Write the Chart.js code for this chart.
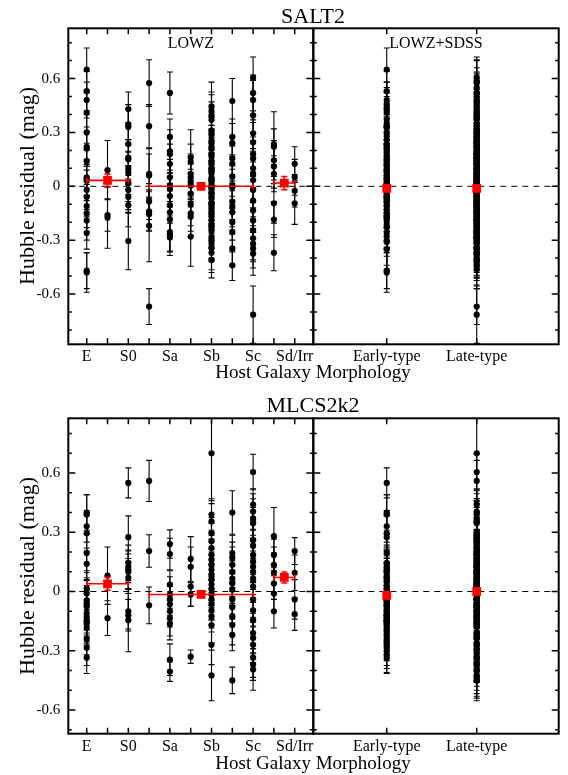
<!DOCTYPE html>
<html>
<head>
<meta charset="utf-8">
<script src="https://cdn.jsdelivr.net/npm/chart.js@4.4.1/dist/chart.umd.min.js"></script>
<style>
    body { margin: 0; background: #fff; width: 568px; height: 775px; position: relative; overflow: hidden;
           font-family: "Liberation Serif", "DejaVu Serif", serif; color: #000; }
    canvas { position: absolute; left: 0; top: 0; }
    .txt { position: absolute; white-space: nowrap; line-height: 1; }
    .center { transform: translateX(-50%); }
    .ytitle { transform: translate(-50%, -50%) rotate(-90deg); }
</style>
</head>
<body>
<canvas id="salt2Lowz" width="568" height="775"></canvas>
<canvas id="salt2All" width="568" height="775"></canvas>
<canvas id="mlcsLowz" width="568" height="775"></canvas>
<canvas id="mlcsAll" width="568" height="775"></canvas>

<div class="txt center" style="left:313px; top:5px; font-size:22px;">SALT2</div>
<div class="txt center" style="left:313px; top:394px; font-size:22px;">MLCS2k2</div>
<div class="txt center" style="left:190.8px; top:35px; font-size:16px;">LOWZ</div>
<div class="txt center" style="left:436px; top:35px; font-size:16px;">LOWZ+SDSS</div>
<div class="txt center" style="left:313px; top:362px; font-size:19px;">Host Galaxy Morphology</div>
<div class="txt center" style="left:313px; top:753px; font-size:19px;">Host Galaxy Morphology</div>
<div class="txt ytitle" style="left:27px; top:186px; font-size:22px;">Hubble residual (mag)</div>
<div class="txt ytitle" style="left:27px; top:576px; font-size:22px;">Hubble residual (mag)</div>

<script>
// ---- カテゴリと目盛り ----
const morphPos = [0, 1, 2, 3, 4, 5, 6, 7, 8, 9, 10];
const morphTickLabels = ['E', '', 'S0', '', 'Sa', '', 'Sb', '', 'Sc', '', 'Sd/Irr'];
const typePos = [1, 2];
const typeTickLabels = ['Early-type', 'Late-type'];

const yTickValues = [-0.6, -0.3, 0, 0.3, 0.6];
const salt2YMinor = [-0.8, -0.7, -0.5, -0.4, -0.2, -0.1, 0.1, 0.2, 0.4, 0.5, 0.7, 0.8];
const mlcsYMinor = [-0.7, -0.5, -0.4, -0.2, -0.1, 0.1, 0.2, 0.4, 0.5, 0.7, 0.8];

// ---- SALT2 LOWZ: [残差, 誤差] ----
const salt2E = [[0.65,0.12],[0.53,0.11],[0.48,0.10],[0.41,0.11],[0.30,0.10],[0.22,0.11],[0.21,0.09],[0.14,0.10],
    [0.05,0.10],[0.03,0.09],[-0.02,0.11],[-0.06,0.10],[-0.11,0.12],[-0.15,0.10],[-0.19,0.11],[-0.26,0.09],[-0.47,0.10],[-0.48,0.11]];
const salt2ES0 = [[0.09,0.165],[-0.16,0.09],[-0.175,0.17]];
const salt2S0 = [[0.43,0.095],[0.345,0.11],[0.33,0.10],[0.235,0.12],[0.16,0.10],[0.15,0.11],[0.10,0.09],[0.075,0.12],
    [0.015,0.10],[-0.02,0.11],[-0.06,0.09],[-0.105,0.12],[-0.305,0.16]];
const salt2S0a = [[0.575,0.13],[0.335,0.12],[0.07,0.14],[0.06,0.12],[-0.085,0.10],[-0.14,0.11],[-0.155,0.09],[-0.22,0.20],[-0.67,0.10]];
const salt2Sa = [[0.52,0.117],[0.275,0.10],[0.195,0.12],[0.18,0.09],[0.125,0.11],[0.05,0.10],[0.005,0.12],[-0.015,0.09],
    [-0.055,0.11],[-0.105,0.10],[-0.145,0.12],[-0.185,0.10],[-0.255,0.11],[-0.27,0.09],[-0.285,0.10]];
const salt2Sab = [[0.16,0.155],[0.135,0.10],[0.07,0.11],[0.05,0.12],[0.025,0.10],[0.005,0.09],[-0.04,0.11],[-0.10,0.12],
    [-0.15,0.10],[-0.17,0.11],[-0.28,0.165]];
const salt2Sb = [[0.445,0.135],[0.415,0.11],[0.39,0.12],[0.37,0.10],[0.31,0.12],[0.29,0.11],[0.255,0.13],[0.24,0.10],
    [0.22,0.12],[0.21,0.11],[0.18,0.10],[0.165,0.13],[0.14,0.11],[0.125,0.12],[0.10,0.10],[0.085,0.12],[0.07,0.11],
    [0.045,0.13],[0.035,0.10],[0.025,0.12],[0.005,0.11],[-0.005,0.10],[-0.015,0.12],[-0.03,0.11],[-0.04,0.13],
    [-0.055,0.10],[-0.07,0.12],[-0.095,0.11],[-0.11,0.10],[-0.125,0.12],[-0.15,0.11],[-0.17,0.13],[-0.19,0.10],
    [-0.215,0.12],[-0.23,0.11],[-0.245,0.10],[-0.28,0.12],[-0.30,0.11],[-0.32,0.10],[-0.345,0.12],[-0.37,0.11],[-0.41,0.10]];
const salt2Sbc = [[0.475,0.125],[0.275,0.10],[0.24,0.11],[0.155,0.12],[0.125,0.10],[0.055,0.11],[0.005,0.09],[-0.005,0.12],
    [-0.085,0.10],[-0.115,0.11],[-0.145,0.12],[-0.20,0.10],[-0.255,0.11],[-0.345,0.10],[-0.44,0.085]];
const salt2Sc = [[0.605,0.115],[0.52,0.10],[0.48,0.11],[0.395,0.12],[0.295,0.10],[0.245,0.11],[0.18,0.12],[0.155,0.10],
    [0.10,0.11],[0.07,0.09],[0.035,0.12],[-0.02,0.10],[-0.08,0.11],[-0.135,0.12],[-0.19,0.10],[-0.245,0.11],
    [-0.29,0.12],[-0.32,0.10],[-0.345,0.11],[-0.375,0.12],[-0.715,0.16]];
const salt2Scd = [[0.235,0.18],[0.22,0.10],[0.145,0.11],[0.11,0.12],[0.07,0.10],[-0.095,0.11],[-0.185,0.10],[-0.37,0.10]];
const salt2SdIrr = [[0.125,0.095],[0.05,0.10],[-0.025,0.09],[-0.095,0.117]];

// SALT2 SDSS (右パネルのみ)
const salt2SdssEarly = [[0.46,0.12],[0.44,0.11],[0.37,0.13],[0.33,0.12],[0.28,0.11],[0.26,0.12],[0.23,0.10],[0.19,0.13],
    [0.17,0.12],[0.12,0.11],[0.08,0.13],[0.06,0.12],[0.02,0.11],[0.00,0.13],[-0.04,0.12],[-0.07,0.11],[-0.09,0.13],
    [-0.13,0.12],[-0.17,0.11],[-0.21,0.13],[-0.23,0.12],[-0.28,0.11],[-0.31,0.13],[-0.35,0.12]];
const salt2SdssLate = [[0.58,0.12],[0.55,0.11],[0.50,0.13],[0.47,0.12],[0.43,0.11],[0.41,0.13],[0.38,0.12],[0.35,0.11],
    [0.33,0.13],[0.30,0.12],[0.27,0.11],[0.25,0.13],[0.22,0.12],[0.19,0.11],[0.16,0.13],[0.14,0.12],[0.12,0.11],
    [0.09,0.13],[0.07,0.12],[0.04,0.11],[0.02,0.13],[0.01,0.12],[-0.01,0.11],[-0.03,0.13],[-0.06,0.12],[-0.08,0.11],
    [-0.11,0.13],[-0.13,0.12],[-0.16,0.11],[-0.18,0.13],[-0.20,0.12],[-0.23,0.11],[-0.26,0.13],[-0.29,0.12],
    [-0.31,0.11],[-0.34,0.13],[-0.38,0.12],[-0.40,0.11],[-0.43,0.12],[-0.46,0.11]];

// SALT2 平均値 (赤)
const meanPos = [1, 5.5, 9.5];
const meanLo = [0, 3, 9];
const meanHi = [2, 8, 10];
const salt2MeanVal = [0.033, 0.0, 0.018];
const salt2MeanErr = [0.035, 0.012, 0.037];
const salt2TypeMeanVal = [-0.012, -0.012];
const salt2TypeMeanErr = [0.015, 0.012];

// ---- MLCS2k2 LOWZ ----
const mlcsE = [[0.40,0.09],[0.39,0.10],[0.33,0.08],[0.295,0.09],[0.195,0.10],[0.14,0.08],[0.015,0.09],[-0.01,0.08],
    [-0.045,0.10],[-0.06,0.09],[-0.075,0.08],[-0.11,0.10],[-0.13,0.09],[-0.15,0.08],[-0.165,0.10],[-0.185,0.09],
    [-0.24,0.08],[-0.285,0.09],[-0.335,0.08]];
const mlcsES0 = [[0.08,0.145],[-0.135,0.088]];
const mlcsS0 = [[0.55,0.076],[0.275,0.108],[0.145,0.09],[0.125,0.08],[0.11,0.10],[0.10,0.09],[0.07,0.08],
    [-0.10,0.09],[-0.12,0.08],[-0.145,0.16]];
const mlcsS0a = [[0.56,0.104],[0.205,0.082],[-0.07,0.093]];
const mlcsSa = [[0.24,0.072],[0.19,0.08],[0.035,0.07],[-0.015,0.09],[-0.04,0.08],[-0.065,0.09],[-0.10,0.08],
    [-0.135,0.09],[-0.165,0.08],[-0.345,0.08],[-0.405,0.05]];
const mlcsSab = [[0.165,0.113],[0.125,0.10],[0.025,0.10],[-0.015,0.06],[-0.33,0.034]];
const mlcsSb = [[0.70,0.24],[0.39,0.08],[0.355,0.09],[0.295,0.08],[0.255,0.09],[0.22,0.08],[0.185,0.10],[0.16,0.09],
    [0.135,0.08],[0.11,0.09],[0.085,0.10],[0.06,0.08],[0.035,0.09],[0.01,0.08],[-0.015,0.09],[-0.04,0.10],
    [-0.065,0.08],[-0.095,0.09],[-0.125,0.08],[-0.17,0.09],[-0.27,0.10],[-0.425,0.128]];
const mlcsSbc = [[0.40,0.11],[0.195,0.09],[0.17,0.08],[0.135,0.09],[0.10,0.08],[0.065,0.09],[0.04,0.10],[0.01,0.08],
    [-0.04,0.09],[-0.08,0.08],[-0.125,0.09],[-0.17,0.10],[-0.22,0.08],[-0.45,0.067]];
const mlcsSc = [[0.605,0.09],[0.44,0.08],[0.405,0.09],[0.37,0.10],[0.345,0.08],[0.26,0.09],[0.23,0.08],[0.185,0.10],
    [0.15,0.09],[0.125,0.08],[0.10,0.09],[0.065,0.10],[0.025,0.08],[-0.04,0.09],[-0.095,0.08],[-0.145,0.09],
    [-0.21,0.10],[-0.235,0.08],[-0.27,0.09],[-0.335,0.10],[-0.37,0.08],[-0.395,0.105]];
const mlcsScd = [[0.28,0.145],[0.185,0.08],[0.135,0.09],[0.095,0.10],[0.04,0.08],[-0.01,0.09],[-0.10,0.085]];
const mlcsSdIrr = [[0.205,0.068],[0.095,0.09],[-0.04,0.10],[-0.115,0.082]];

const mlcsSdssEarly = [[0.12,0.09],[0.10,0.08],[0.07,0.10],[0.05,0.09],[0.03,0.08],[0.00,0.10],[-0.02,0.09],
    [-0.05,0.08],[-0.07,0.10],[-0.09,0.09],[-0.12,0.08],[-0.15,0.10],[-0.17,0.09],[-0.20,0.08],[-0.22,0.10],
    [-0.25,0.09],[-0.27,0.08],[-0.30,0.09],[-0.32,0.09]];
const mlcsSdssLate = [[0.30,0.09],[0.27,0.08],[0.25,0.10],[0.22,0.09],[0.20,0.08],[0.17,0.10],[0.15,0.09],[0.12,0.08],
    [0.10,0.10],[0.08,0.09],[0.05,0.08],[0.03,0.10],[0.01,0.09],[-0.01,0.08],[-0.04,0.10],[-0.06,0.09],[-0.08,0.08],
    [-0.11,0.10],[-0.13,0.09],[-0.16,0.08],[-0.18,0.10],[-0.21,0.09],[-0.23,0.08],[-0.26,0.10],[-0.29,0.09],
    [-0.31,0.08],[-0.34,0.10],[-0.37,0.09],[-0.40,0.08],[-0.43,0.10],[-0.45,0.09]];

const mlcsMeanVal = [0.039, -0.015, 0.071];
const mlcsMeanErr = [0.033, 0.012, 0.028];
const mlcsTypeMeanVal = [-0.02, 0.0];
const mlcsTypeMeanErr = [0.015, 0.01];

// ---- 配置 ----
const W = 568, H = 775;
const X_AXIS_H = 30;
const BOX_LEFT = 68.3, BOX_MID = 313.3, BOX_RIGHT = 558.7;
const salt2Box = { top: 28.3, bottom: 344.3, yMin: -0.88, yMax: 0.88 };
const mlcsBox = { top: 418.3, bottom: 733.7, yMin: -0.72, yMax: 0.877 };

Chart.defaults.font.family = '"Liberation Serif", "DejaVu Serif", serif';
Chart.defaults.color = '#000';

// order: 大きいほど下に描かれる (赤を上に)
const blackStyle = { order: 2, pointRadius: 3.1, pointBackgroundColor: '#000', pointBorderWidth: 0, pointStyle: 'circle',
    barColor: '#000', barWidth: 1.1, cap: 3 };
const redStyle = { order: 1, pointRadius: 6.2, pointBackgroundColor: '#ff0000', pointBorderWidth: 0, pointStyle: 'rect',
    barColor: '#ff0000', barWidth: 1.6, cap: 3 };

// 誤差棒・枠・内向き目盛り
const framePlugin = {
    id: 'frame',
    beforeDatasetsDraw(chart) {
        const { ctx, chartArea: a, scales: { y } } = chart;
        const y0 = y.getPixelForValue(0);
        ctx.save();
        ctx.strokeStyle = '#000';
        ctx.lineWidth = 1;
        ctx.setLineDash([6, 5]);
        ctx.beginPath();
        ctx.moveTo(a.left, y0);
        ctx.lineTo(a.right, y0);
        ctx.stroke();
        ctx.restore();
    },
    beforeDatasetDraw(chart, args) {
        const ds = chart.data.datasets[args.index];
        if (!ds.yErr) return;
        const { ctx, chartArea: a, scales: { x, y } } = chart;
        ctx.save();
        ctx.beginPath();
        ctx.rect(a.left, a.top, a.right - a.left, a.bottom - a.top);
        ctx.clip();
        ctx.strokeStyle = ds.barColor;
        ctx.lineWidth = ds.barWidth;
        ds.data.forEach((p, i) => {
            const px = x.getPixelForValue(p.x);
            const lo = y.getPixelForValue(p.y - ds.yErr[i]);
            const hi = y.getPixelForValue(p.y + ds.yErr[i]);
            ctx.beginPath();
            ctx.moveTo(px, lo); ctx.lineTo(px, hi);
            ctx.moveTo(px - ds.cap, lo); ctx.lineTo(px + ds.cap, lo);
            ctx.moveTo(px - ds.cap, hi); ctx.lineTo(px + ds.cap, hi);
            if (ds.xLo) {
                const py = y.getPixelForValue(p.y);
                const l = x.getPixelForValue(ds.xLo[i]);
                const r = x.getPixelForValue(ds.xHi[i]);
                ctx.moveTo(l, py); ctx.lineTo(r, py);
                ctx.moveTo(l, py - ds.cap); ctx.lineTo(l, py + ds.cap);
                ctx.moveTo(r, py - ds.cap); ctx.lineTo(r, py + ds.cap);
            }
            ctx.stroke();
        });
        ctx.restore();
    },
    afterDraw(chart) {
        const { ctx, chartArea: a, scales: { x, y } } = chart;
        const opts = chart.options.plugins.frame;
        ctx.save();
        ctx.strokeStyle = '#000';
        ctx.lineWidth = 1.5;
        ctx.beginPath();
        opts.yMajor.forEach(v => {
            const py = y.getPixelForValue(v);
            ctx.moveTo(a.left, py); ctx.lineTo(a.left + 7, py);
            ctx.moveTo(a.right, py); ctx.lineTo(a.right - 7, py);
        });
        opts.yMinor.forEach(v => {
            const py = y.getPixelForValue(v);
            ctx.moveTo(a.left, py); ctx.lineTo(a.left + 3.5, py);
            ctx.moveTo(a.right, py); ctx.lineTo(a.right - 3.5, py);
        });
        opts.xMajor.forEach(v => {
            const px = x.getPixelForValue(v);
            ctx.moveTo(px, a.top); ctx.lineTo(px, a.top + 6);
            ctx.moveTo(px, a.bottom); ctx.lineTo(px, a.bottom - 6);
        });
        ctx.stroke();
        ctx.lineWidth = 2;
        ctx.strokeRect(a.left, a.top, a.right - a.left, a.bottom - a.top);
        ctx.restore();
    }
};

function pointsFrom(groups, positions) {
    const pts = [], errs = [];
    groups.forEach((g, i) => g.forEach(([v, e]) => {
        pts.push({ x: positions[i], y: v });
        errs.push(e);
    }));
    return { pts, errs };
}

function makePanel(id, box, left, right, xCfg, yMinor, datasets, showY) {
    const yOpts = {
        type: 'linear', min: box.yMin, max: box.yMax, display: showY,
        afterBuildTicks: s => { s.ticks = yTickValues.map(v => ({ value: v })); },
        grid: { display: false, drawTicks: false },
        border: { display: false },
        ticks: { padding: 8, font: { size: 15 },
            callback: v => (Math.abs(v) < 1e-9 ? '0' : v.toFixed(1)) }
    };
    // 非表示の軸には幅を与えない
    if (showY) yOpts.afterFit = s => { s.width = left; };
    new Chart(document.getElementById(id), {
        type: 'scatter',
        data: { datasets },
        options: {
            responsive: false,
            animation: false,
            layout: { padding: { left: showY ? 0 : left, right: W - right, top: box.top,
                bottom: H - box.bottom - X_AXIS_H } },
            plugins: {
                legend: { display: false },
                tooltip: { enabled: false },
                frame: { yMajor: yTickValues, yMinor: yMinor, xMajor: xCfg.pos }
            },
            scales: {
                x: {
                    type: 'linear', min: xCfg.min, max: xCfg.max,
                    afterBuildTicks: s => { s.ticks = xCfg.pos.map(v => ({ value: v })); },
                    afterFit: s => { s.height = X_AXIS_H; s.paddingLeft = 0; s.paddingRight = 0; },
                    grid: { display: false, drawTicks: false },
                    border: { display: false },
                    ticks: { autoSkip: false, maxRotation: 0, padding: 3, font: { size: 16 },
                        callback: (v, i) => xCfg.labels[i] }
                },
                y: yOpts
            }
        },
        plugins: [framePlugin]
    });
}

function lowzPanel(id, box, groups, meanVal, meanErr, yMinor) {
    const { pts, errs } = pointsFrom(groups, morphPos);
    const datasets = [
        { data: pts, yErr: errs, ...blackStyle },
        { data: meanPos.map((p, i) => ({ x: p, y: meanVal[i] })), yErr: meanErr, xLo: meanLo, xHi: meanHi, ...redStyle }
    ];
    makePanel(id, box, BOX_LEFT, BOX_MID,
        { min: -0.885, max: 10.894, pos: morphPos, labels: morphTickLabels }, yMinor, datasets, true);
}

function allPanel(id, box, groups, sdssEarly, sdssLate, meanVal, meanErr, yMinor) {
    const early = groups.slice(0, 3).flat().concat(sdssEarly);
    const late = groups.slice(3).flat().concat(sdssLate);
    const { pts, errs } = pointsFrom([early, late], typePos);
    const datasets = [
        { data: pts, yErr: errs, ...blackStyle },
        { data: typePos.map((p, i) => ({ x: p, y: meanVal[i] })), yErr: meanErr, ...redStyle }
    ];
    makePanel(id, box, BOX_MID, BOX_RIGHT,
        { min: 0.184, max: 2.911, pos: typePos, labels: typeTickLabels }, yMinor, datasets, false);
}

const salt2Groups = [salt2E, salt2ES0, salt2S0, salt2S0a, salt2Sa, salt2Sab, salt2Sb, salt2Sbc, salt2Sc, salt2Scd, salt2SdIrr];
const mlcsGroups = [mlcsE, mlcsES0, mlcsS0, mlcsS0a, mlcsSa, mlcsSab, mlcsSb, mlcsSbc, mlcsSc, mlcsScd, mlcsSdIrr];

lowzPanel('salt2Lowz', salt2Box, salt2Groups, salt2MeanVal, salt2MeanErr, salt2YMinor);
allPanel('salt2All', salt2Box, salt2Groups, salt2SdssEarly, salt2SdssLate, salt2TypeMeanVal, salt2TypeMeanErr, salt2YMinor);
lowzPanel('mlcsLowz', mlcsBox, mlcsGroups, mlcsMeanVal, mlcsMeanErr, mlcsYMinor);
allPanel('mlcsAll', mlcsBox, mlcsGroups, mlcsSdssEarly, mlcsSdssLate, mlcsTypeMeanVal, mlcsTypeMeanErr, mlcsYMinor);
</script>
</body>
</html>
